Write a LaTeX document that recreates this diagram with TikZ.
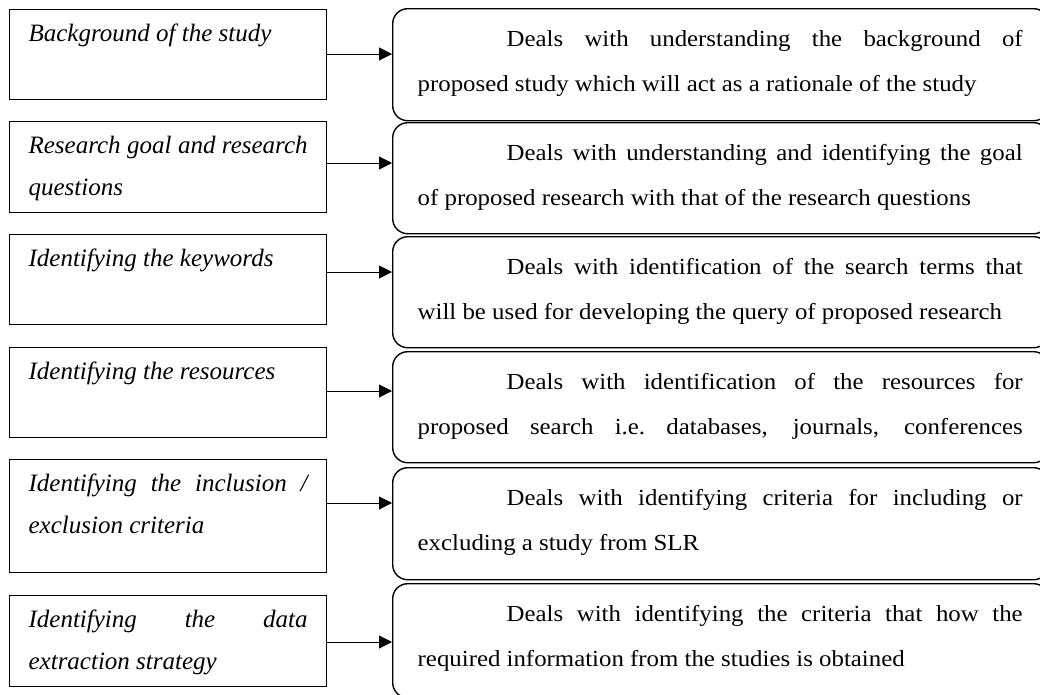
\documentclass[tikz,border=0pt]{standalone}
\usepackage{fontspec}
\setmainfont{Liberation Serif}
\newfontfamily\rfont[FakeStretch=1.08]{Liberation Serif}
\usetikzlibrary{arrows.meta}
\newcommand\ltext[2]{\hspace*{19pt}\parbox[t][#1][t]{279pt}{\rule{0pt}{32pt}#2}\hspace*{19pt}}
\newcommand\rtext[2]{\hspace*{25pt}\parbox[t][#1][t]{631pt}{\rightskip=26pt\rule{0pt}{38pt}\hspace*{89pt}#2}}
\begin{document}
\begin{tikzpicture}[x=1pt,y=-1pt,
 lbox/.style={draw, line width=1.2pt, inner sep=0pt, anchor=north west, font=\fontsize{25}{42}\selectfont\itshape},
 rbox/.style={draw, line width=1.4pt, rounded corners=15pt, inner sep=0pt, anchor=north west, font=\rfont\fontsize{23}{45}\selectfont},
 arr/.style={line width=1pt, -{Triangle[length=13pt,width=13pt]}}]
\useasboundingbox (0,0) rectangle (1040,694);
\node[lbox] (l1) at (9,9) {\ltext{90pt}{Background of the study}};
\node[lbox] (l2) at (9,121) {\ltext{91pt}{Research goal and research\linebreak questions}};
\node[lbox] (l3) at (9,234) {\ltext{90pt}{Identifying the keywords}};
\node[lbox] (l4) at (9,347) {\ltext{90pt}{Identifying the resources}};
\node[lbox] (l5) at (9,459) {\ltext{113pt}{Identifying the inclusion /\linebreak exclusion criteria}};
\node[lbox] (l6) at (9,595) {\ltext{91pt}{Identifying the data\linebreak extraction strategy}};
\node[rbox] (r1) at (392,8) {\rtext{112pt}{Deals with understanding the background of\linebreak proposed study which will act as a rationale of the study}};
\node[rbox] (r2) at (392,122) {\rtext{111pt}{Deals with understanding and identifying the goal\linebreak of proposed research with that of the research questions}};
\node[rbox] (r3) at (392,236) {\rtext{111pt}{Deals with identification of the search terms that\linebreak will be used for developing the query of proposed research}};
\node[rbox] (r4) at (392,351) {\rtext{111pt}{\parfillskip=0pt Deals with identification of the resources for\linebreak proposed search i.e.\ databases, journals, conferences}};
\node[rbox] (r5) at (392,467) {\rtext{112pt}{Deals with identifying criteria for including or\linebreak excluding a study from SLR}};
\node[rbox] (r6) at (392,583) {\rtext{114pt}{Deals with identifying the criteria that how the\linebreak required information from the studies is obtained}};
\coordinate (a1) at ([yshift=-45pt]l1.north east);
\coordinate (a2) at ([yshift=-42pt]l2.north east);
\coordinate (a3) at ([yshift=-38pt]l3.north east);
\coordinate (a4) at ([yshift=-44pt]l4.north east);
\coordinate (a5) at ([yshift=-44pt]l5.north east);
\coordinate (a6) at ([yshift=-47pt]l6.north east);
\draw[arr] (a1) -- (a1 -| r1.west);
\draw[arr] (a2) -- (a2 -| r2.west);
\draw[arr] (a3) -- (a3 -| r3.west);
\draw[arr] (a4) -- (a4 -| r4.west);
\draw[arr] (a5) -- (a5 -| r5.west);
\draw[arr] (a6) -- (a6 -| r6.west);
\end{tikzpicture}
\end{document}
